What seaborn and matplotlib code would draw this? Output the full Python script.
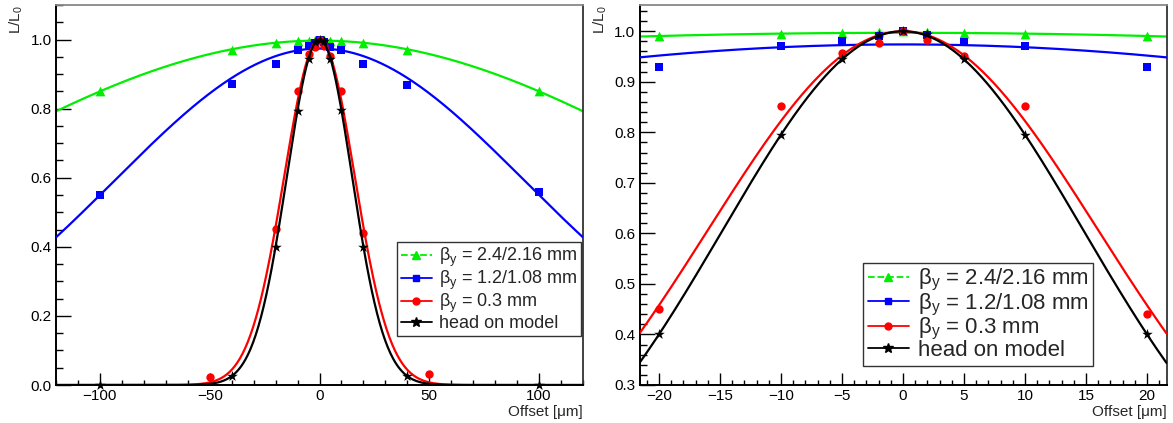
import numpy as np
import seaborn as sns
import matplotlib.pyplot as plt
from matplotlib.lines import Line2D
from matplotlib.ticker import MultipleLocator, FormatStrFormatter

sns.set_style("white")
plt.rcParams["font.family"] = ["Liberation Sans", "DejaVu Sans"]
plt.rcParams["mathtext.fontset"] = "custom"
plt.rcParams["mathtext.rm"] = "Liberation Sans"
plt.rcParams["mathtext.it"] = "Liberation Sans"

# measured points
offsets = [-100, -40, -20, -10, -5, -2, 0, 2, 5, 10, 20, 40, 100]
lumi_green = [0.852, 0.969, 0.990, 0.995, 0.997, 0.999, 1.0, 0.999, 0.997, 0.995, 0.990, 0.969, 0.851]
lumi_blue = [0.551, 0.870, 0.930, 0.970, 0.980, 0.991, 1.0, 0.993, 0.979, 0.971, 0.929, 0.868, 0.560]
offsets_red = [-50, -20, -10, -5, -2, 0, 2, 5, 10, 20, 50]
lumi_red = [0.022, 0.451, 0.852, 0.958, 0.977, 1.0, 0.982, 0.952, 0.852, 0.441, 0.031]
lumi_black = [0.0, 0.025, 0.400, 0.794, 0.945, 0.993, 1.0, 0.995, 0.945, 0.795, 0.400, 0.025, 0.0]

# gaussian fit parameters (amplitude, sigma [um])
fit_amp = [0.997, 0.974, 1.0, 1.0]
fit_sigma = [177.0, 93.5, 16.0, 14.78]

labels = [r"β$_{y}$ = 2.4/2.16 mm", r"β$_{y}$ = 1.2/1.08 mm",
          r"β$_{y}$ = 0.3 mm", "head on model"]
colors = ["#00ee00", "#0000ff", "#ff0000", "#000000"]
markers = ["^", "s", "o", "*"]
msizes = [7, 6, 6, 8]

series = [(offsets, lumi_green), (offsets, lumi_blue),
          (offsets_red, lumi_red), (offsets, lumi_black)]

fig = plt.figure(figsize=(11.73, 4.23), dpi=100)
W, H = 1173, 423
axL = fig.add_axes([56 / W, 38 / H, 527 / W, 380 / H])
axR = fig.add_axes([639.5 / W, 38 / H, 527 / W, 380 / H])


def draw(ax, xlim, ylim):
    xs = np.linspace(xlim[0], xlim[1], 600)
    for i, (xv, yv) in enumerate(series):
        yc = fit_amp[i] * np.exp(-xs ** 2 / (2 * fit_sigma[i] ** 2))
        sns.lineplot(x=xs, y=yc, color=colors[i], lw=1.6, ax=ax, zorder=2 + i)
        # keep only points inside this panel's x range
        pts = [(a, b) for a, b in zip(xv, yv) if xlim[0] <= a <= xlim[1]]
        px, py = zip(*pts)
        sns.scatterplot(x=list(px), y=list(py), color=colors[i], marker=markers[i],
                        s=msizes[i] ** 2, linewidth=0, ax=ax, zorder=2 + i, clip_on=False)
    ax.set_xlim(*xlim)
    ax.set_ylim(*ylim)


draw(axL, (-120, 120), (0, 1.1))
draw(axR, (-21.6, 21.6), (0.3, 1.052))

axL.xaxis.set_major_locator(MultipleLocator(50))
axL.xaxis.set_minor_locator(MultipleLocator(10))
axL.yaxis.set_major_locator(MultipleLocator(0.2))
axL.yaxis.set_minor_locator(MultipleLocator(0.05))
axR.xaxis.set_major_locator(MultipleLocator(5))
axR.xaxis.set_minor_locator(MultipleLocator(1))
axR.yaxis.set_major_locator(MultipleLocator(0.1))
axR.yaxis.set_minor_locator(MultipleLocator(0.02))

for ax in (axL, axR):
    ax.yaxis.set_major_formatter(FormatStrFormatter("%.1f"))
    ax.tick_params(axis="both", which="both", direction="in", width=1,
                   labelsize=11, colors="black", pad=3,
                   bottom=True, left=True, top=False, right=False)
    ax.tick_params(axis="y", which="major", length=11)
    ax.tick_params(axis="y", which="minor", length=5)
    ax.tick_params(axis="x", which="major", length=8.5)
    ax.tick_params(axis="x", which="minor", length=3.5)
    for s in ("left", "bottom"):
        ax.spines[s].set_color("black")
        ax.spines[s].set_linewidth(1.4)
    ax.spines["top"].set_color("#888888")
    ax.spines["right"].set_color("#333333")
    ax.spines["top"].set_linewidth(1.3)
    ax.spines["right"].set_linewidth(1.3)
    ax.set_ylabel("L/L$_{0}$", loc="top", fontsize=11, labelpad=4)
    ax.set_xlabel("Offset [μm]", loc="right", fontsize=11, labelpad=1)

handles = [Line2D([], [], color=colors[i], ls="--" if i == 0 else "-", lw=1.3,
                  marker=markers[i], ms=msizes[i] - 1) for i in range(4)]

legL = axL.legend(handles, labels, loc="lower left", bbox_to_anchor=(0.648, 0.129),
                  borderaxespad=0, fontsize=13, frameon=True, fancybox=False,
                  handlelength=1.7, handletextpad=0.4, labelspacing=0.0,
                  borderpad=0.2, numpoints=1)
legR = axR.legend(handles, labels, loc="lower left", bbox_to_anchor=(0.425, 0.051),
                  borderaxespad=0, fontsize=16, frameon=True, fancybox=False,
                  handlelength=1.85, handletextpad=0.4, labelspacing=-0.08,
                  borderpad=0.2, numpoints=1)
for leg in (legL, legR):
    leg.get_frame().set_edgecolor("black")
    leg.get_frame().set_linewidth(1.0)
    leg.set_zorder(10)

fig.savefig("out.png", dpi=100)
